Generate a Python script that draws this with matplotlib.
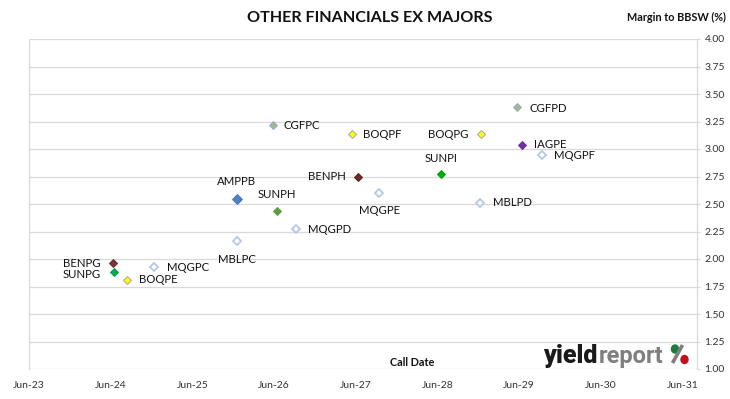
import matplotlib
matplotlib.use("Agg")
import matplotlib.pyplot as plt
from matplotlib.patches import Ellipse
from matplotlib.lines import Line2D
import pandas as pd

plt.rcParams['font.family'] = ['Lato', 'DejaVu Sans']

# ---- data ----
names = ["BENPG", "SUNPG", "BOQPE", "MQGPC", "MBLPC", "AMPPB", "CGFPC", "SUNPH",
         "MQGPD", "BOQPF", "BENPH", "MQGPE", "SUNPI", "BOQPG", "MBLPD", "CGFPD",
         "IAGPE", "MQGPF"]
call_dates = ["2024-06-10", "2024-06-14", "2024-08-10", "2024-12-10", "2025-12-15",
              "2025-12-15", "2026-05-25", "2026-06-15", "2026-09-08", "2027-05-15",
              "2027-06-13", "2027-09-15", "2028-06-16", "2028-12-10", "2028-12-08",
              "2029-05-20", "2029-06-12", "2029-09-12"]
margins = [1.96, 1.88, 1.81, 1.93, 2.16, 2.55, 3.22, 2.44,
           2.27, 3.14, 2.75, 2.60, 2.77, 3.14, 2.51, 3.38,
           3.04, 2.95]
tick_dates = ["2023-06-01", "2024-06-01", "2025-06-01", "2026-06-01", "2027-06-01",
              "2028-06-01", "2029-06-01", "2030-06-01", "2031-06-01"]
tick_labels = ["Jun-23", "Jun-24", "Jun-25", "Jun-26", "Jun-27", "Jun-28",
               "Jun-29", "Jun-30", "Jun-31"]
y_ticks = [1.00, 1.25, 1.50, 1.75, 2.00, 2.25, 2.50, 2.75, 3.00, 3.25, 3.50, 3.75, 4.00]

# ---- styles (face, edge, size) ----
HOLLOW = ("white", "#B4C7E7", 3.9)
YEL = ("#FFFF00", "#A6A6A6", 4.0)
CGF = ("#A4BC84", "#8FAADC", 4.0)
styles = {
    "BENPG": ("#7B3535", "#6B2C2C", 4.0),
    "SUNPG": ("#00B050", "#00A048", 4.0),
    "BOQPE": YEL, "BOQPF": YEL, "BOQPG": YEL,
    "MQGPC": HOLLOW, "MBLPC": HOLLOW, "MQGPD": HOLLOW, "MQGPE": HOLLOW,
    "MBLPD": HOLLOW, "MQGPF": HOLLOW,
    "CGFPC": CGF, "CGFPD": CGF,
    "AMPPB": ("#4F81BD", "#4A7CC4", 5.3),
    "SUNPH": ("#5E9E3E", "#5E9E3E", 4.0),
    "BENPH": ("#6E2A2A", "#5A2020", 4.0),
    "SUNPI": ("#00B000", "#00A000", 4.0),
    "IAGPE": ("#7030A0", "#6A2C9A", 4.0),
}
# label offsets in pixels (dx, dy up) and horizontal alignment
label_pos = {
    "BENPG": (-12, 0, "right"), "SUNPG": (-13, -2, "right"), "BOQPE": (12, 0, "left"),
    "MQGPC": (13, -1, "left"), "MBLPC": (0, -18, "center"), "AMPPB": (0, 17, "center"),
    "CGFPC": (11, -1, "left"), "SUNPH": (0, 16, "center"), "MQGPD": (12, 0, "left"),
    "BOQPF": (11, -1, "left"), "BENPH": (-13, 0, "right"), "MQGPE": (0, -18, "center"),
    "SUNPI": (0, 16, "center"), "BOQPG": (-12, -1, "right"), "MBLPD": (13, 0, "left"),
    "CGFPD": (13, -1, "left"), "IAGPE": (12, 0, "left"), "MQGPF": (12, -1, "left"),
}

W, H = 730, 399
fig = plt.figure(figsize=(W / 100, H / 100), dpi=100)
ax = fig.add_axes([29 / W, 1 - 369 / H, (697 - 29) / W, (369 - 39) / H])

xs = pd.to_datetime(call_dates)
px2pt = 0.72
for n, d, m in zip(names, xs, margins):
    fc, ec, ms = styles[n]
    ax.plot([d], [m], linestyle="none", marker="D", markersize=ms,
            markerfacecolor=fc, markeredgecolor=ec,
            markeredgewidth=1.3 if fc == "white" else 0.7, zorder=3)
    dx, dy, ha = label_pos[n]
    ax.annotate(n, (d, m), xytext=(dx * px2pt, dy * px2pt), textcoords="offset points",
                ha=ha, va="center", fontsize=8.2, color="#111111")

ax.set_ylim(1.0, 4.0)
ax.set_yticks(y_ticks)
ax.set_yticklabels([f"{v:.2f}" for v in y_ticks])
ax.yaxis.tick_right()
ax.tick_params(axis="y", length=2.5, width=0.8, color="#D9D9D9", pad=3,
               labelsize=7.5, labelcolor="#333333")
ax.set_xlim(pd.Timestamp("2023-06-01"), pd.Timestamp("2031-08-05"))
ax.set_xticks(pd.to_datetime(tick_dates))
ax.set_xticklabels(tick_labels)
ax.tick_params(axis="x", length=0, pad=9, labelsize=7.5, labelcolor="#333333")
ax.grid(axis="y", color="#D9D9D9", linewidth=0.9)
ax.set_axisbelow(True)
for s in ["top", "bottom"]:
    ax.spines[s].set_visible(False)
for s in ["left", "right"]:
    ax.spines[s].set_color("#D9D9D9")
    ax.spines[s].set_linewidth(0.9)

fig.text(370 / W, 1 - 18 / H, "OTHER FINANCIALS EX MAJORS", ha="center", va="center",
         fontsize=11.6, fontweight="bold", color="#111111")
fig.text(676 / W, 1 - 17 / H, "Margin to BBSW (%)", ha="center", va="center",
         fontsize=7.8, fontweight="bold", color="#111111")
fig.text(412 / W, 1 - 363 / H, "Call Date", ha="center", va="center",
         fontsize=7.8, fontweight="bold", color="#111111")

# logo
t1 = fig.text(543 / W, 1 - 363 / H, "yield", ha="left", va="baseline",
              fontsize=18, fontweight=900, color="#1A1A1A", family="Roboto")
fig.canvas.draw()
bb = t1.get_window_extent()
t2 = fig.text((bb.x1 + 1) / W, 1 - 363 / H, "report", ha="left", va="baseline",
              fontsize=17, fontweight="bold", color="#7F7F7F", family="Roboto")
fig.lines.append(Line2D([672.5 / W, 682.5 / W], [1 - 363 / H, 1 - 345 / H],
                        transform=fig.transFigure, color="#7F7F7F", linewidth=2.6,
                        solid_capstyle="butt"))
fig.patches.append(Ellipse((675 / W, 1 - 349 / H), 7 / W, 8 / H,
                           transform=fig.transFigure, color="#1E7B3C"))
fig.patches.append(Ellipse((684.5 / W, 1 - 359.5 / H), 7 / W, 8 / H,
                           transform=fig.transFigure, color="#C0101A"))

fig.savefig("out.png", dpi=100)
